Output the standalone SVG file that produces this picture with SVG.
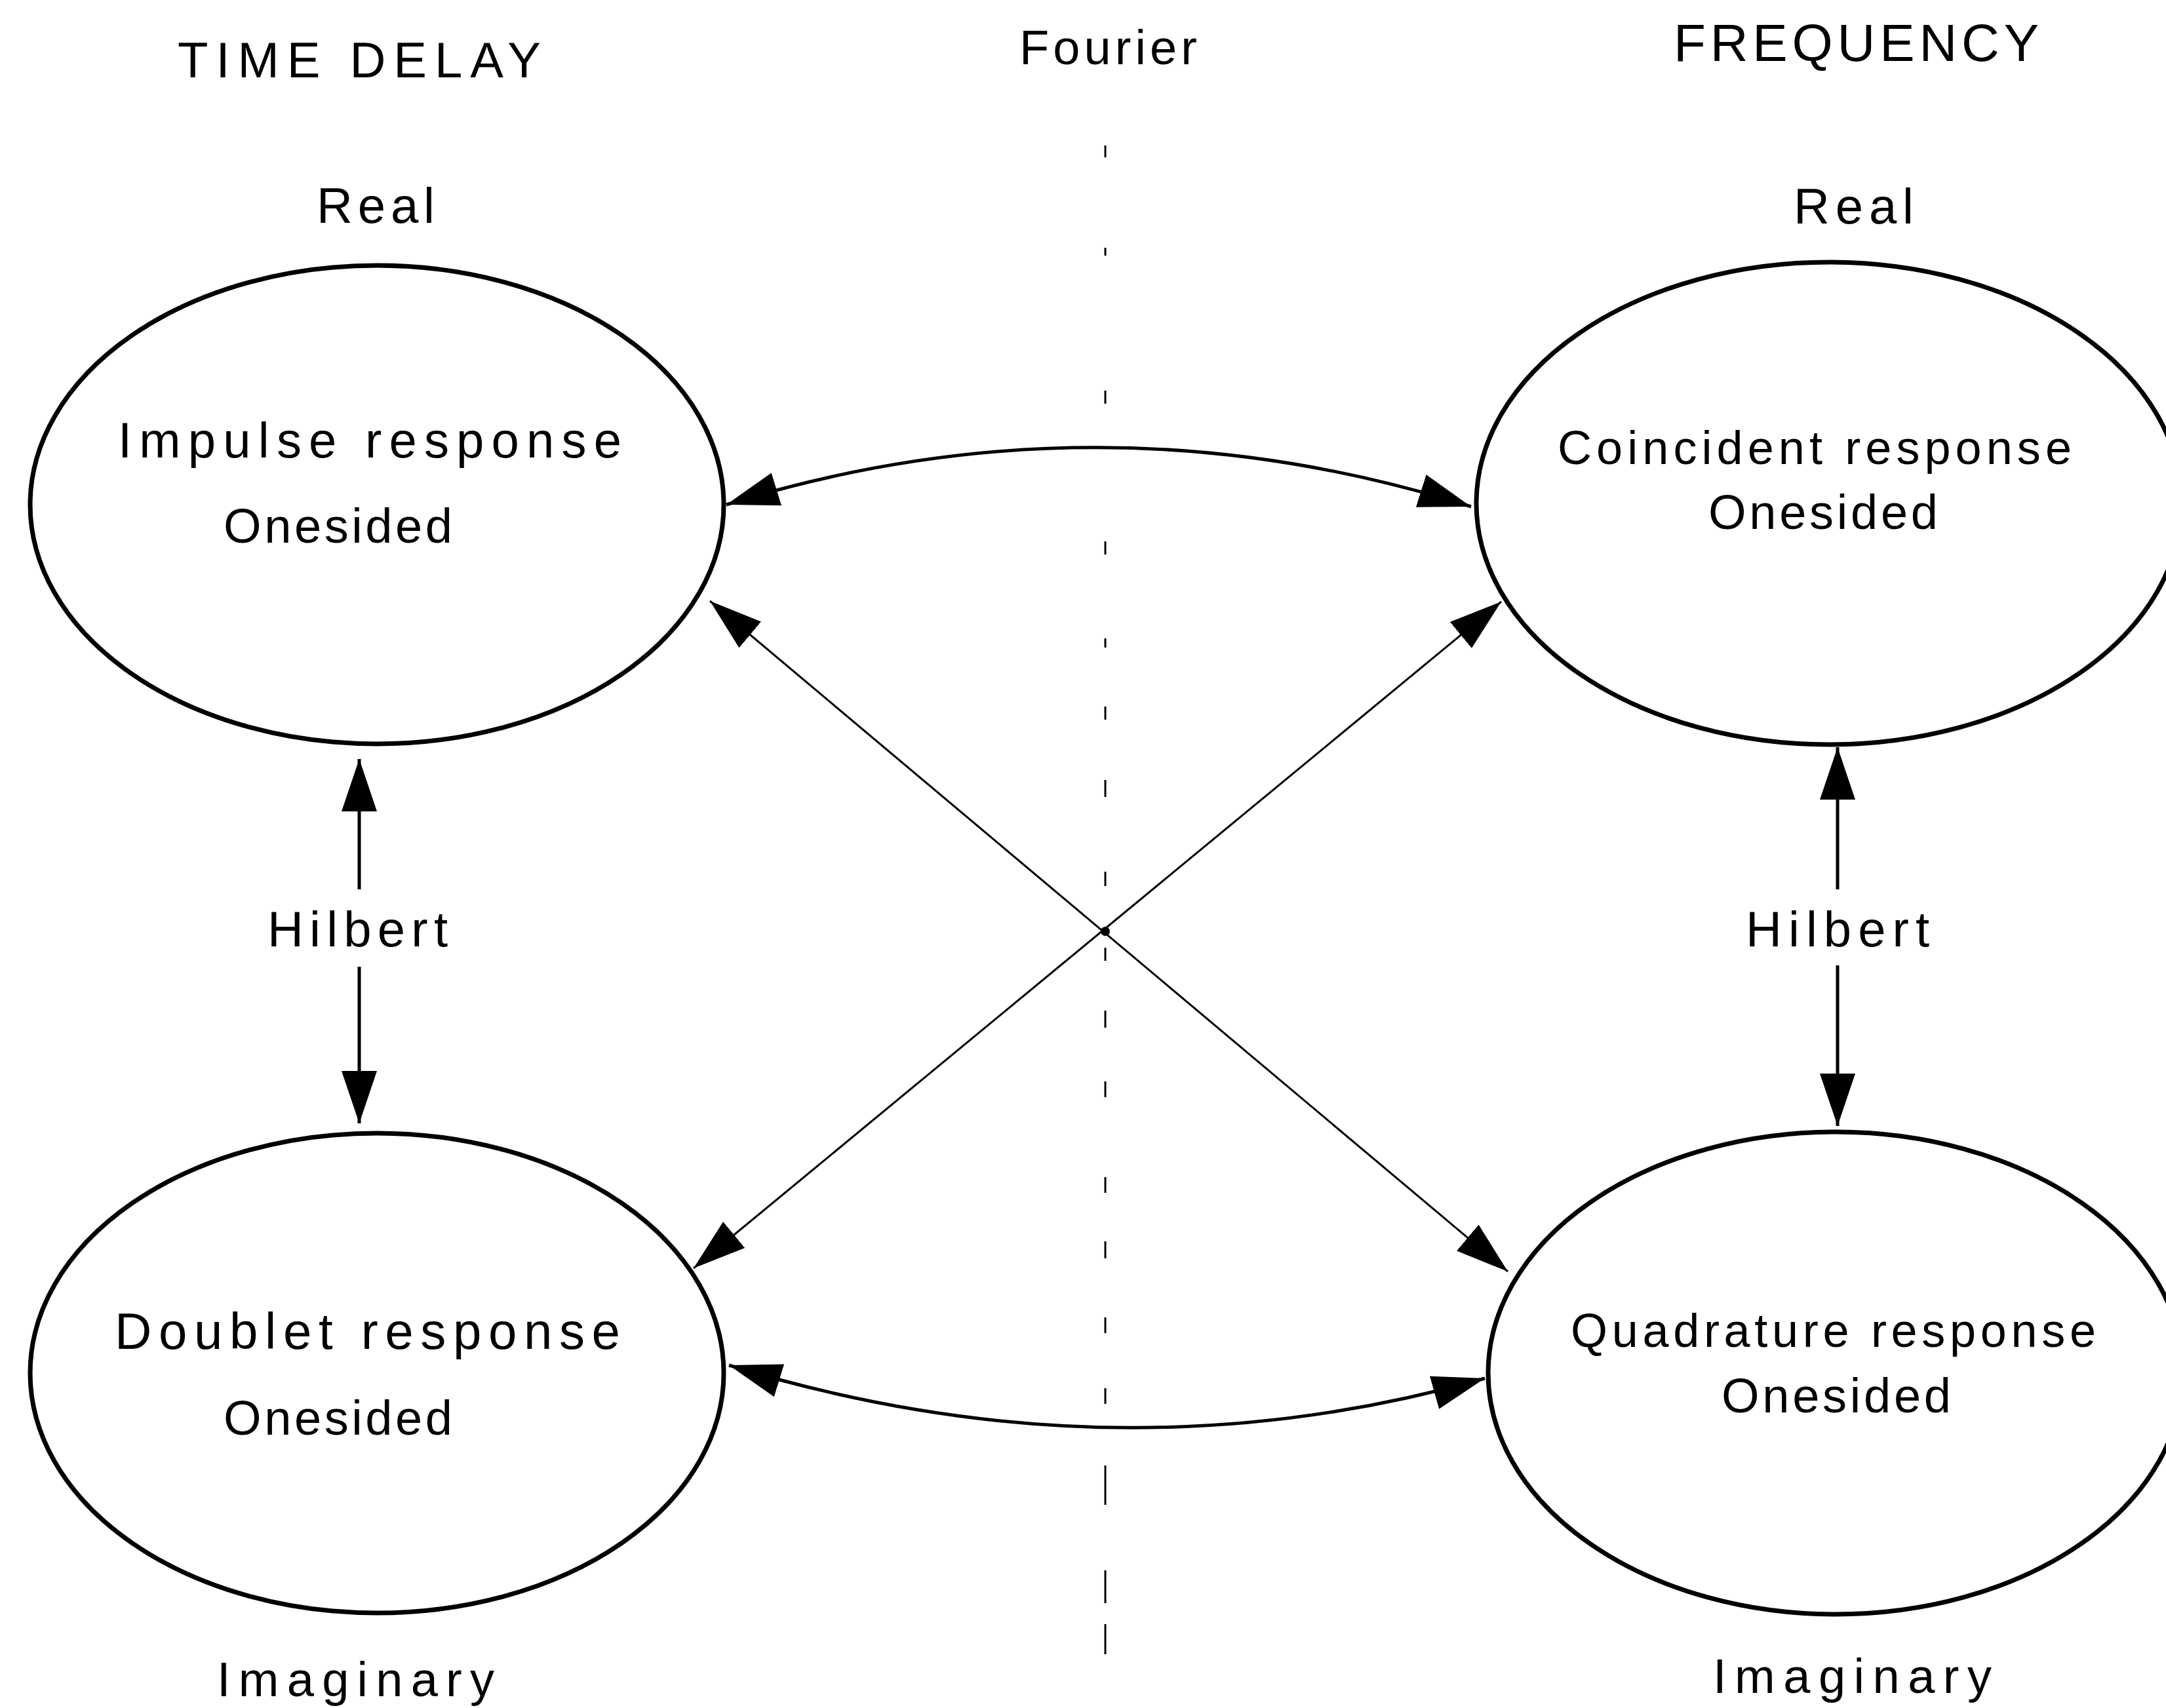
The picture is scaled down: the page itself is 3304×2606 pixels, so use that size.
<svg xmlns="http://www.w3.org/2000/svg" width="3304" height="2606" viewBox="0 0 3304 2606">
  <style>
    .lbl { font-family: "Liberation Sans", Arial, Helvetica, sans-serif; fill: #000; }
    .node { fill: none; stroke: #000; stroke-width: 7; }
    .arc { fill: none; stroke: #000; stroke-width: 5; }
    .diag { fill: none; stroke: #000; stroke-width: 3; }
    .hil { fill: none; stroke: #000; stroke-width: 5; }
    .axis { fill: none; stroke: #000; stroke-width: 3; }
  </style>
  <defs>
    <marker id="head" markerUnits="userSpaceOnUse" markerWidth="82" markerHeight="56" viewBox="-80 -28 82 56" refX="0" refY="0" orient="auto-start-reverse">
      <path d="M0,0 L-80,-26 L-80,26 Z" fill="#000"/>
    </marker>
    <marker id="headWide" markerUnits="userSpaceOnUse" markerWidth="82" markerHeight="60" viewBox="-80 -30 82 60" refX="0" refY="0" orient="auto-start-reverse">
      <path d="M0,0 L-80,-27 L-80,27 Z" fill="#000"/>
    </marker>
  </defs>

  <rect width="3304" height="2606" fill="#fff"/>

  <!-- column headings -->
  <g id="headings">
    <text class="lbl" x="271" y="118" font-size="76" textLength="554" lengthAdjust="spacing">TIME DELAY</text>
    <text class="lbl" x="1555" y="98" font-size="74" textLength="271" lengthAdjust="spacing">Fourier</text>
    <text class="lbl" x="2553" y="93" font-size="80" textLength="557" lengthAdjust="spacing">FREQUENCY</text>
    <text class="lbl" x="483" y="340" font-size="76" textLength="180" lengthAdjust="spacing">Real</text>
    <text class="lbl" x="2736" y="341" font-size="76" textLength="183" lengthAdjust="spacing">Real</text>
    <text class="lbl" x="331" y="2588" font-size="74" textLength="423" lengthAdjust="spacing">Imaginary</text>
    <text class="lbl" x="2613" y="2583" font-size="74" textLength="425" lengthAdjust="spacing">Imaginary</text>
  </g>

  <!-- Fourier divider (broken dash-dot axis) -->
  <g id="fourier-axis">
    <path class="axis" d="M1686,222 v18 M1686,378 v12 M1686,596 v20 M1686,826 v20 M1686,974 v14 M1686,1078 v20 M1686,1190 v26 M1686,1330 v22 M1686,1446 v20 M1686,1542 v26 M1686,1650 v24 M1686,1796 v24 M1686,1894 v26 M1686,2010 v24 M1686,2118 v24 M1686,2236 v60 M1686,2396 v50 M1686,2478 v46"/>
  </g>

  <!-- nodes -->
  <g id="impulse">
    <ellipse class="node" cx="575" cy="770" rx="529" ry="365"/>
    <text class="lbl" x="180" y="698" font-size="76" textLength="768" lengthAdjust="spacing">Impulse response</text>
    <text class="lbl" x="341" y="828" font-size="74" textLength="349" lengthAdjust="spacing">Onesided</text>
  </g>
  <g id="coincident">
    <ellipse class="node" cx="2790" cy="768" rx="538" ry="368"/>
    <text class="lbl" x="2376" y="708" font-size="72" textLength="784" lengthAdjust="spacing">Coincident response</text>
    <text class="lbl" x="2606" y="807" font-size="74" textLength="350" lengthAdjust="spacing">Onesided</text>
  </g>
  <g id="doublet">
    <ellipse class="node" cx="575" cy="2095" rx="529" ry="366"/>
    <text class="lbl" x="175" y="2058" font-size="78" textLength="771" lengthAdjust="spacing">Doublet response</text>
    <text class="lbl" x="341" y="2189" font-size="74" textLength="349" lengthAdjust="spacing">Onesided</text>
  </g>
  <g id="quadrature">
    <ellipse class="node" cx="2800" cy="2095" rx="530" ry="368"/>
    <text class="lbl" x="2396" y="2055" font-size="72" textLength="801" lengthAdjust="spacing">Quadrature response</text>
    <text class="lbl" x="2626" y="2155" font-size="74" textLength="350" lengthAdjust="spacing">Onesided</text>
  </g>

  <!-- connectors -->
  <g id="connectors">
    <!-- Fourier pairs -->
    <path class="arc" d="M1108,770 Q1676,594 2244,773" marker-start="url(#head)" marker-end="url(#head)"/>
    <path class="arc" d="M1112,2083 Q1700,2263 2265,2103" marker-start="url(#head)" marker-end="url(#head)"/>
    <!-- cross pairs -->
    <path class="diag" d="M1083,917 L2300,1940" marker-start="url(#head)" marker-end="url(#head)"/>
    <path class="diag" d="M2290,918 L1058,1935" marker-start="url(#head)" marker-end="url(#head)"/>
    <circle cx="1686" cy="1421" r="7" fill="#000"/>
    <!-- Hilbert pairs -->
    <path class="hil" d="M548,1357 L548,1158" marker-end="url(#headWide)"/>
    <path class="hil" d="M548,1475 L548,1714" marker-end="url(#headWide)"/>
    <path class="hil" d="M2803,1357 L2803,1140" marker-end="url(#headWide)"/>
    <path class="hil" d="M2803,1473 L2803,1718" marker-end="url(#headWide)"/>
  </g>

  <g id="hilbert-labels">
    <text class="lbl" x="408" y="1444" font-size="76" textLength="275" lengthAdjust="spacing">Hilbert</text>
    <text class="lbl" x="2663" y="1444" font-size="76" textLength="280" lengthAdjust="spacing">Hilbert</text>
  </g>
</svg>
